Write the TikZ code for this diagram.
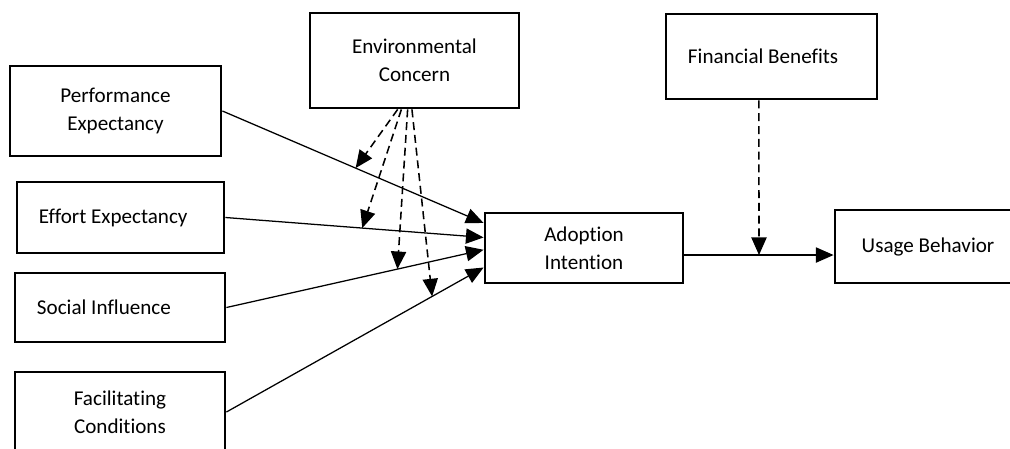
\documentclass[tikz,border=0pt]{standalone}
\usepackage{fontspec}
\setmainfont{Carlito}[Ligatures=NoCommon]
\usepackage{tikz}
\usetikzlibrary{arrows.meta}

\begin{document}
\begin{tikzpicture}[x=0.025cm, y=-0.025cm,
        construct/.style = {draw, line width=2pt, align=center, inner sep=2pt,
            font=\fontsize{15}{20}\selectfont},
        leftconstruct/.style = {construct, align=flush left, inner xsep=0.55cm},
        link/.style = {-{Triangle[length=4.4mm,width=3.8mm]}, line width=0.9pt},
        moderator/.style = {link, line width=1.1pt, dash pattern=on 2mm off 1.2mm}]
            \useasboundingbox (0,0) rectangle (1010,448);

            \node[construct, minimum width=5.275cm, minimum height=2.25cm] (pe) at (115.5,111) {Performance\\Expectancy};
            \node[leftconstruct, text width=4.075cm, minimum height=1.775cm] (ee) at (120.5,217.5) {Effort Expectancy};
            \node[leftconstruct, text width=4.15cm, minimum height=1.725cm] (si) at (120,307.5) {Social Influence};
            \node[construct, minimum width=5.25cm, minimum height=2.0cm] (fc) at (120,412) {Facilitating\\Conditions};
            \node[construct, minimum width=5.225cm, minimum height=2.375cm] (ec) at (414.5,60.5) {Environmental\\Concern};
            \node[leftconstruct, text width=4.175cm, minimum height=2.125cm] (fb) at (771.5,56.5) {Financial Benefits};
            \node[construct, minimum width=4.95cm, minimum height=1.75cm] (ai) at (584,248) {Adoption\\Intention};
            \node[construct, minimum width=4.65cm, minimum height=1.825cm] (ub) at (928,246.5) {Usage Behavior};

            \draw[link] (pe.east) -- coordinate[pos=0.51] (m1) (ai.166);
            \draw[link] (ee.east) -- coordinate[pos=0.53] (m2) (ai.174);
            \draw[link] (si.east) -- coordinate[pos=0.665] (m3) (ai.181);
            \draw[link] (fc.east) -- coordinate[pos=0.80] (m4) (ai.191);
            \draw[link] (ai.-4) -- coordinate[pos=0.5] (m5) (ub.west |- ai.-4);

            \draw[moderator] (ec.-109) -- (m1);
            \draw[moderator] (ec.-105) -- (m2);
            \draw[moderator] (ec.-98) -- (m3);
            \draw[moderator] (ec.-93) -- (m4);
            \draw[moderator] (fb.-106) -- (m5);

        \end{tikzpicture}
\end{document}
